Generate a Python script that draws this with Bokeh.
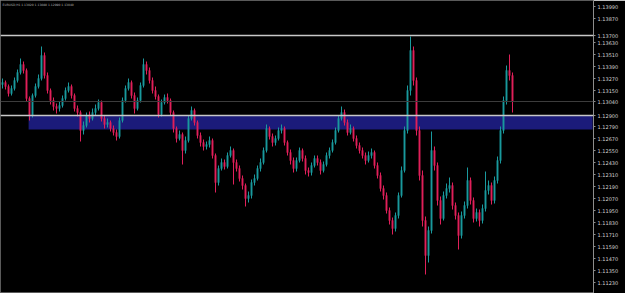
from bokeh.plotting import figure
from bokeh.models import Range1d, FixedTicker, PrintfTickFormatter, LinearAxis, Label, Span, ColumnDataSource
from bokeh.embed import file_html
from bokeh.resources import INLINE

# ---- data (EURUSD H1 candles) ----
first_open = 1.1321
closes = [
    1.1323, 1.1319, 1.1312, 1.1317, 1.1325, 1.1333, 1.1341, 1.1335, 1.1307, 1.1290,
    1.1310, 1.1319, 1.1327, 1.1350, 1.1330, 1.1315, 1.1305, 1.1299, 1.1297, 1.1300,
    1.1307, 1.1315, 1.1319, 1.1310, 1.1297, 1.1293, 1.1275, 1.1280, 1.1290, 1.1287,
    1.1293, 1.1297, 1.1303, 1.1287, 1.1281, 1.1283, 1.1277, 1.1273, 1.1269, 1.1285,
    1.1305, 1.1317, 1.1323, 1.1310, 1.1297, 1.1305, 1.1320, 1.1341, 1.1335, 1.1325,
    1.1315, 1.1309, 1.1291, 1.1303, 1.1308, 1.1305, 1.1293, 1.1277, 1.1267, 1.1271,
    1.1255, 1.1265, 1.1287, 1.1295, 1.1283, 1.1270, 1.1263, 1.1259, 1.1261, 1.1265,
    1.1250, 1.1223, 1.1237, 1.1243, 1.1239, 1.1250, 1.1255, 1.1243, 1.1237, 1.1227,
    1.1220, 1.1207, 1.1210, 1.1223, 1.1227, 1.1237, 1.1243, 1.1255, 1.1277, 1.1269,
    1.1263, 1.1267, 1.1275, 1.1277, 1.1263, 1.1253, 1.1245, 1.1237, 1.1245, 1.1255,
    1.1247, 1.1235, 1.1233, 1.1240, 1.1247, 1.1243, 1.1235, 1.1241, 1.1250, 1.1255,
    1.1263, 1.1275, 1.1287, 1.1293, 1.1283, 1.1273, 1.1277, 1.1267, 1.1260, 1.1255,
    1.1250, 1.1245, 1.1250, 1.1253, 1.1240, 1.1230, 1.1217, 1.1210, 1.1195, 1.1185,
    1.1177, 1.1190, 1.1210, 1.1235, 1.1275, 1.1315, 1.1355, 1.1325, 1.1275, 1.1230,
    1.1185, 1.1150, 1.1175, 1.1255, 1.1240, 1.1205, 1.1187, 1.1210, 1.1217, 1.1220,
    1.1200, 1.1190, 1.1170, 1.1190, 1.1200, 1.1225, 1.1205, 1.1187, 1.1193, 1.1185,
    1.1197, 1.1215, 1.1220, 1.1205, 1.1225, 1.1245, 1.1275, 1.1305, 1.1335, 1.1330,
    1.1304,
]
highs = [
    1.1327, 1.1325, 1.1321, 1.1320, 1.1328, 1.1336, 1.1347, 1.1344, 1.1337, 1.1309,
    1.1312, 1.1322, 1.1331, 1.1359, 1.1353, 1.1333, 1.1317, 1.1308, 1.1302, 1.1304,
    1.1310, 1.1318, 1.1323, 1.1321, 1.1312, 1.1300, 1.1295, 1.1284, 1.1293, 1.1294,
    1.1297, 1.1301, 1.1306, 1.1305, 1.1290, 1.1287, 1.1285, 1.1280, 1.1276, 1.1288,
    1.1308, 1.1320, 1.1327, 1.1325, 1.1313, 1.1308, 1.1323, 1.1347, 1.1344, 1.1338,
    1.1328, 1.1319, 1.1311, 1.1306, 1.1311, 1.1312, 1.1307, 1.1295, 1.1279, 1.1275,
    1.1273, 1.1269, 1.1290, 1.1299, 1.1297, 1.1285, 1.1273, 1.1266, 1.1264, 1.1269,
    1.1267, 1.1252, 1.1240, 1.1247, 1.1246, 1.1253, 1.1259, 1.1257, 1.1246, 1.1240,
    1.1230, 1.1222, 1.1214, 1.1226, 1.1231, 1.1240, 1.1247, 1.1258, 1.1281, 1.1279,
    1.1272, 1.1270, 1.1278, 1.1281, 1.1279, 1.1265, 1.1256, 1.1248, 1.1248, 1.1258,
    1.1257, 1.1250, 1.1238, 1.1243, 1.1250, 1.1250, 1.1246, 1.1244, 1.1253, 1.1258,
    1.1266, 1.1278, 1.1290, 1.1299, 1.1296, 1.1286, 1.1281, 1.1279, 1.1270, 1.1263,
    1.1258, 1.1253, 1.1254, 1.1257, 1.1255, 1.1243, 1.1233, 1.1220, 1.1213, 1.1198,
    1.1188, 1.1193, 1.1213, 1.1239, 1.1279, 1.1320, 1.1369, 1.1359, 1.1328, 1.1279,
    1.1235, 1.1189, 1.1179, 1.1274, 1.1259, 1.1243, 1.1209, 1.1214, 1.1222, 1.1228,
    1.1223, 1.1203, 1.1193, 1.1194, 1.1204, 1.1238, 1.1228, 1.1208, 1.1197, 1.1196,
    1.1201, 1.1234, 1.1225, 1.1223, 1.1229, 1.1249, 1.1279, 1.1309, 1.1340, 1.1351,
    1.1333,
]
lows = [
    1.1317, 1.1316, 1.1309, 1.1310, 1.1315, 1.1323, 1.1331, 1.1332, 1.1304, 1.1285,
    1.1288, 1.1308, 1.1317, 1.1325, 1.1327, 1.1312, 1.1301, 1.1295, 1.1292, 1.1294,
    1.1298, 1.1305, 1.1313, 1.1307, 1.1294, 1.1289, 1.1264, 1.1271, 1.1278, 1.1283,
    1.1285, 1.1290, 1.1295, 1.1284, 1.1277, 1.1278, 1.1274, 1.1270, 1.1265, 1.1267,
    1.1283, 1.1303, 1.1315, 1.1307, 1.1292, 1.1295, 1.1303, 1.1318, 1.1331, 1.1322,
    1.1312, 1.1306, 1.1288, 1.1289, 1.1301, 1.1302, 1.1290, 1.1273, 1.1263, 1.1265,
    1.1241, 1.1252, 1.1263, 1.1285, 1.1280, 1.1267, 1.1259, 1.1255, 1.1256, 1.1258,
    1.1247, 1.1213, 1.1220, 1.1235, 1.1236, 1.1237, 1.1248, 1.1221, 1.1234, 1.1224,
    1.1216, 1.1199, 1.1203, 1.1207, 1.1220, 1.1225, 1.1234, 1.1241, 1.1253, 1.1266,
    1.1259, 1.1260, 1.1265, 1.1272, 1.1260, 1.1250, 1.1241, 1.1233, 1.1234, 1.1243,
    1.1244, 1.1231, 1.1229, 1.1230, 1.1238, 1.1240, 1.1231, 1.1233, 1.1239, 1.1247,
    1.1253, 1.1261, 1.1273, 1.1285, 1.1280, 1.1270, 1.1271, 1.1264, 1.1257, 1.1252,
    1.1247, 1.1241, 1.1243, 1.1247, 1.1237, 1.1227, 1.1214, 1.1206, 1.1192, 1.1181,
    1.1171, 1.1174, 1.1187, 1.1208, 1.1233, 1.1272, 1.1310, 1.1320, 1.1270, 1.1225,
    1.1179, 1.1131, 1.1143, 1.1172, 1.1235, 1.1200, 1.1181, 1.1185, 1.1207, 1.1213,
    1.1196, 1.1186, 1.1156, 1.1167, 1.1187, 1.1197, 1.1201, 1.1183, 1.1184, 1.1179,
    1.1182, 1.1194, 1.1211, 1.1201, 1.1202, 1.1222, 1.1242, 1.1272, 1.1301, 1.1325,
    1.1293,
]
opens = [first_open] + closes[:-1]

upper_level = 1.1370        # white horizontal line
zone_top = 1.1290           # white line / top of blue zone
zone_bottom = 1.1276        # bottom of blue zone
zone_start_bar = 9
current_price = 1.1304      # grey line at last close

tick_values = [1.1399, 1.1387, 1.1363, 1.1351, 1.1339, 1.1327, 1.1315,
               1.1279, 1.1267, 1.1255, 1.1243, 1.1231, 1.1219, 1.1207, 1.1195,
               1.1183, 1.1171, 1.1159, 1.1147, 1.1135, 1.1123]
tag_values = [upper_level, current_price, zone_top]
title_text = "EURUSD,H1  1.13020 1.13080 1.12990 1.13040"

# ---- figure ----
n = len(closes)
idx = list(range(n))
up = [c >= o for o, c in zip(opens, closes)]
UP_COL = "#1a9a9e"
DN_COL = "#e0205a"
colors = [UP_COL if u else DN_COL for u in up]
src = ColumnDataSource(dict(
    x=idx, o=opens, c=closes, h=highs, l=lows, color=colors,
    top=[max(o, c) for o, c in zip(opens, closes)],
    bot=[min(o, c) for o, c in zip(opens, closes)],
))

W, H = 625, 293
FRAME_W = 593
Y0, Y1 = 1.1112, 1.1405
x0 = -2 / 3
x1 = x0 + FRAME_W / 3
p = figure(width=W, height=H, output_backend="svg", toolbar_location=None,
           x_range=Range1d(x0, x1), y_range=Range1d(Y0, Y1),
           min_border_left=0, min_border_top=0, min_border_bottom=0,
           min_border_right=W - FRAME_W, y_axis_location=None, x_axis_location=None)
p.background_fill_color = "black"
p.border_fill_color = "black"
p.outline_line_color = "#5a5a5a"
p.xgrid.visible = False
p.ygrid.visible = False

# blue zone
p.quad(left=[zone_start_bar - 0.3], right=[x1 - 0.3], top=[zone_top], bottom=[zone_bottom],
       fill_color="#1b1b7a", line_color=None)

# horizontal lines
p.add_layout(Span(location=upper_level, dimension="width", line_color="#c8c8c8", line_width=1.5))
p.add_layout(Span(location=zone_top, dimension="width", line_color="#c8c8c8", line_width=1.5))
p.add_layout(Span(location=current_price, dimension="width", line_color="#3c3c3c", line_width=1))

# candles
p.segment(x0="x", y0="h", x1="x", y1="l", color="color", line_width=1, source=src)
p.vbar(x="x", width=0.45, top="top", bottom="bot", fill_color="color", line_color="color",
       line_width=0.5, source=src)

# right price axis (regular ticks plus the level tags)
ax = LinearAxis(ticker=FixedTicker(ticks=sorted(tick_values + tag_values)),
                formatter=PrintfTickFormatter(format="%.5f"))
ax.axis_line_color = "#8c8c8c"
ax.major_tick_line_color = "#8c8c8c"
ax.major_tick_out = 2
ax.major_tick_in = 0
ax.minor_tick_line_color = None
ax.major_label_text_color = "#d2d2d2"
ax.major_label_text_font = "DejaVu Sans"
ax.major_label_text_font_size = "5px"
ax.major_label_standoff = 2
p.add_layout(ax, "right")

# title
p.add_layout(Label(x=x0 + 0.7, y=1.1401, text=title_text, text_font="DejaVu Sans",
                   text_font_size="3px", text_color="#b4b4b4", text_baseline="middle",
                   text_align="left"))

open("out.html", "w").write(file_html(p, INLINE))
